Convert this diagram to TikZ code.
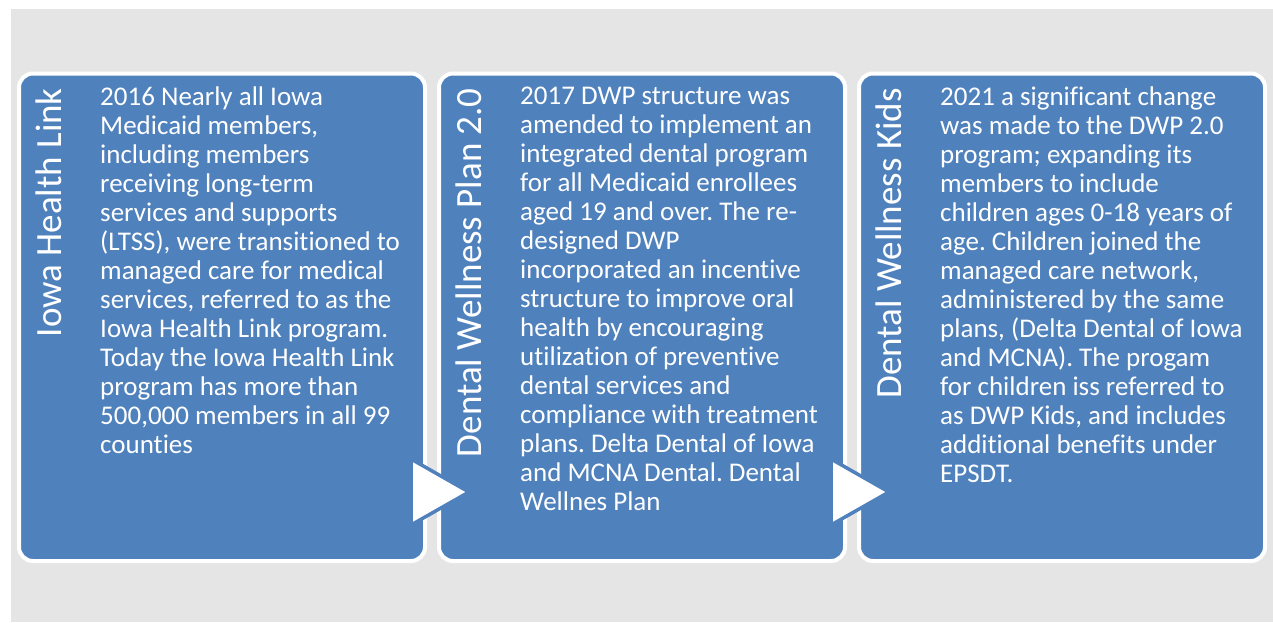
\documentclass[tikz,border=0pt]{standalone}
\usepackage{fontspec}
\setmainfont{Carlito}[Ligatures=NoCommon]
\usetikzlibrary{positioning, calc}
\definecolor{panelblue}{HTML}{4F81BD}
\definecolor{bggray}{HTML}{E5E5E5}
\frenchspacing

\begin{document}
\begin{tikzpicture}[
    x=1pt, y=-1pt,
    card/.style={rectangle, draw=white, line width=4pt, fill=panelblue, rounded corners=14pt, minimum width=406pt, minimum height=487.5pt, outer sep=0pt, inner sep=0pt},
    title/.style={rotate=90, anchor=base east, inner sep=0pt, text=white, font=\fontsize{37}{44}\selectfont},
    body/.style={anchor=north west, inner sep=0pt, align=left, text=white, font=\fontsize{27}{29}\selectfont},
    chevron/.style={draw=panelblue, fill=white, line width=3.5pt, line join=miter}
]
    % Page frame and grey backdrop
    \useasboundingbox (0,0) rectangle (1273,622);
    \fill[bggray] (11,9) rectangle (1273,622);

    % Three panels side by side
    \node[card] (c1) at (222,317.25) {};
    \node[card, right=14pt of c1] (c2) {};
    \node[card, right=14pt of c2] (c3) {};

    % Vertical headings
    \node[title] (t1) at ([xshift=42pt, yshift=-14.5pt]c1.north west) {Iowa Health Link};
    \node[title] (t2) at ([xshift=42pt, yshift=-14.5pt]c2.north west) {Dental Wellness Plan 2.0};
    \node[title] (t3) at ([xshift=42pt, yshift=-14.5pt]c3.north west) {Dental Wellness Kids};

    % Panel texts
    \node[body] (b1) at ([xshift=81pt, yshift=-13.5pt]c1.north west) {2016 Nearly all Iowa\\
        Medicaid members,\\
        including members\\
        receiving long-term\\
        services and supports\\
        (LTSS), were transitioned to\\
        managed care for medical\\
        services, referred to as the\\
        Iowa Health Link program.\\
        Today the Iowa Health Link\\
        program has more than\\
        500,000 members in all 99\\
        counties};
    \node[body] (b2) at ([xshift=81pt, yshift=-13.5pt]c2.north west) {2017 DWP structure was\\
        amended to implement an\\
        integrated dental program\\
        for all Medicaid enrollees\\
        aged 19 and over. The re-\\
        designed DWP\\
        incorporated an incentive\\
        structure to improve oral\\
        health by encouraging\\
        utilization of preventive\\
        dental services and\\
        compliance with treatment\\
        plans. Delta Dental of Iowa\\
        and MCNA Dental. Dental\\
        Wellnes Plan};
    \node[body] (b3) at ([xshift=81pt, yshift=-13.5pt]c3.north west) {2021 a significant change\\
        was made to the DWP 2.0\\
        program; expanding its\\
        members to include\\
        children ages 0-18 years of\\
        age. Children joined the\\
        managed care network,\\
        administered by the same\\
        plans, (Delta Dental of Iowa\\
        and MCNA). The progam\\
        for children iss referred to\\
        as DWP Kids, and includes\\
        additional benefits under\\
        EPSDT.};

    % Chevrons between the panels
    \draw[chevron] ([xshift=-14pt, yshift=102pt]c1.south east) -- ([xshift=44pt, yshift=69pt]c1.south east) -- ([xshift=-14pt, yshift=36pt]c1.south east) -- cycle;
    \draw[chevron] ([xshift=-14pt, yshift=102pt]c2.south east) -- ([xshift=44pt, yshift=69pt]c2.south east) -- ([xshift=-14pt, yshift=36pt]c2.south east) -- cycle;
\end{tikzpicture}
\end{document}
